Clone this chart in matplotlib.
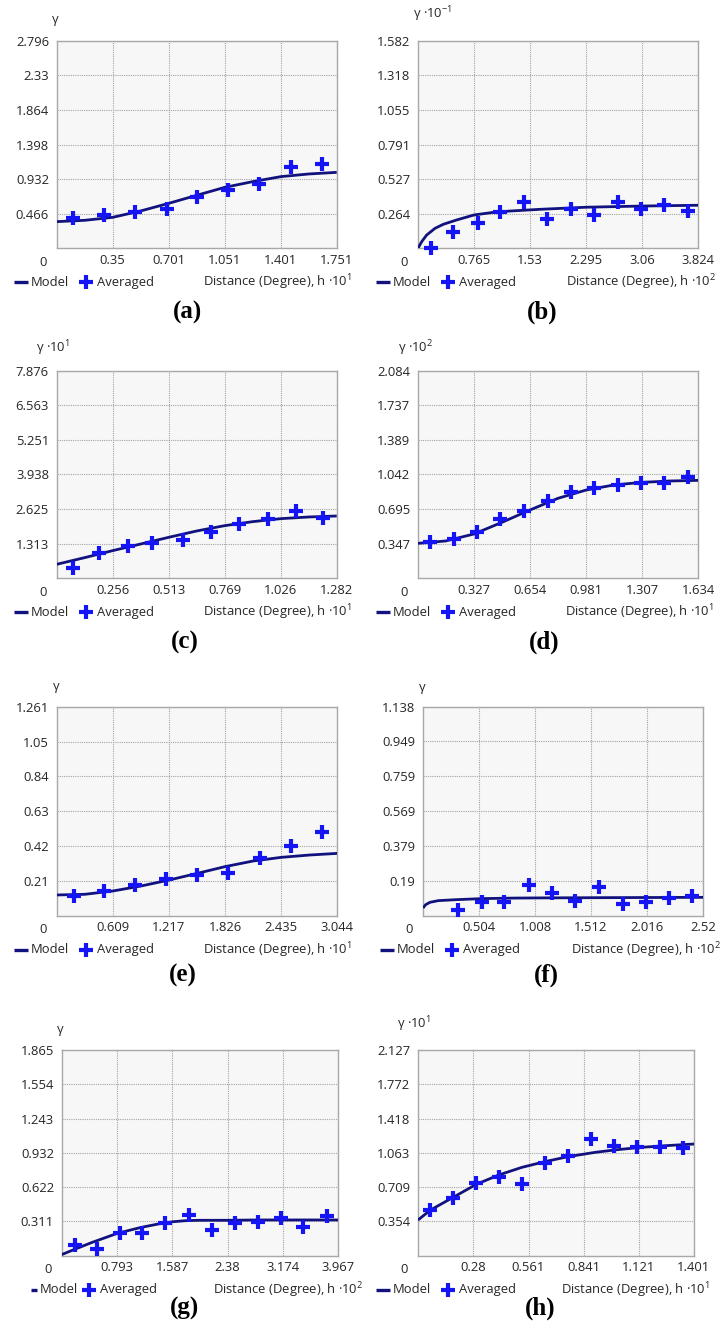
import matplotlib
matplotlib.use("Agg")
import matplotlib.pyplot as plt
from matplotlib.lines import Line2D

# ====== DATA ======
# (a)
a_lag = [0.104, 0.296, 0.490, 0.688, 0.880, 1.074, 1.267, 1.465, 1.657]
a_avg = [0.404, 0.449, 0.494, 0.525, 0.687, 0.785, 0.862, 1.091, 1.135]
a_model_h = [0, 0.175, 0.35, 0.525, 0.701, 0.876, 1.051, 1.226, 1.401, 1.576, 1.751]
a_model = [0.359, 0.377, 0.417, 0.503, 0.606, 0.714, 0.821, 0.898, 0.965, 1.001, 1.023]
a_xticks = ["0.35", "0.701", "1.051", "1.401", "1.751"]
a_yticks = ["0.466", "0.932", "1.398", "1.864", "2.33", "2.796"]

# (b)
b_lag = [0.173, 0.482, 0.815, 1.120, 1.452, 1.762, 2.090, 2.399, 2.727, 3.046, 3.364, 3.683]
b_avg = [0.0, 0.127, 0.190, 0.279, 0.351, 0.223, 0.302, 0.254, 0.350, 0.297, 0.330, 0.284]
b_model_h = [0, 0.05, 0.118, 0.232, 0.346, 0.528, 0.765, 1.029, 1.256, 1.666, 2.295, 3.06, 3.824]
b_model = [0, 0.050, 0.101, 0.152, 0.183, 0.216, 0.254, 0.274, 0.284, 0.297, 0.313, 0.322, 0.328]
b_xticks = ["0.765", "1.53", "2.295", "3.06", "3.824"]
b_yticks = ["0.264", "0.527", "0.791", "1.055", "1.318", "1.582"]

# (c)
c_lag = [0.073, 0.194, 0.325, 0.435, 0.577, 0.705, 0.835, 0.969, 1.094, 1.221]
c_avg = [0.379, 0.973, 1.226, 1.327, 1.454, 1.770, 2.048, 2.238, 2.566, 2.276]
c_model_h = [0, 0.128, 0.256, 0.385, 0.513, 0.641, 0.769, 0.897, 1.026, 1.154, 1.282]
c_model = [0.531, 0.784, 1.049, 1.302, 1.555, 1.795, 1.997, 2.149, 2.263, 2.326, 2.364]
c_xticks = ["0.256", "0.513", "0.769", "1.026", "1.282"]
c_yticks = ["1.313", "2.625", "3.938", "5.251", "6.563", "7.876"]

# (d)
d_lag = [0.072, 0.208, 0.344, 0.480, 0.621, 0.757, 0.893, 1.029, 1.165, 1.301, 1.438, 1.574]
d_avg = [0.368, 0.391, 0.468, 0.592, 0.679, 0.779, 0.863, 0.903, 0.933, 0.960, 0.953, 1.020]
d_model_h = [0, 0.163, 0.327, 0.490, 0.654, 0.817, 0.981, 1.144, 1.307, 1.471, 1.634]
d_model = [0.351, 0.375, 0.445, 0.562, 0.686, 0.803, 0.886, 0.937, 0.963, 0.977, 0.983]
d_xticks = ["0.327", "0.654", "0.981", "1.307", "1.634"]
d_yticks = ["0.347", "0.695", "1.042", "1.389", "1.737", "2.084"]

# (e)
e_lag = [0.188, 0.517, 0.850, 1.182, 1.526, 1.862, 2.205, 2.542, 2.874]
e_avg = [0.119, 0.151, 0.185, 0.219, 0.245, 0.259, 0.350, 0.422, 0.503]
e_model_h = [0, 0.304, 0.609, 0.913, 1.217, 1.522, 1.826, 2.131, 2.435, 2.740, 3.044]
e_model = [0.125, 0.129, 0.149, 0.179, 0.215, 0.255, 0.296, 0.330, 0.352, 0.366, 0.376]
e_xticks = ["0.609", "1.217", "1.826", "2.435", "3.044"]
e_yticks = ["0.21", "0.42", "0.63", "0.84", "1.05", "1.261"]

# (f)
f_lag = [0.312, 0.528, 0.732, 0.957, 1.161, 1.371, 1.581, 1.797, 2.007, 2.217, 2.421]
f_avg = [0.029, 0.075, 0.075, 0.169, 0.125, 0.080, 0.154, 0.062, 0.076, 0.098, 0.107]
f_model_h = [0, 0.024, 0.063, 0.138, 0.288, 0.528, 0.828, 1.098, 1.512, 2.016, 2.52]
f_model = [0.042, 0.060, 0.073, 0.082, 0.087, 0.093, 0.096, 0.097, 0.098, 0.099, 0.100]
f_xticks = ["0.504", "1.008", "1.512", "2.016", "2.52"]
f_yticks = ["0.19", "0.379", "0.569", "0.759", "0.949", "1.138"]

# (g)
g_lag = [0.186, 0.506, 0.832, 1.156, 1.486, 1.821, 2.155, 2.481, 2.810, 3.140, 3.465, 3.800]
g_avg = [0.097, 0.061, 0.203, 0.203, 0.294, 0.369, 0.233, 0.294, 0.302, 0.339, 0.257, 0.363]
g_model_h = [0, 0.186, 0.425, 0.798, 1.142, 1.381, 1.596, 1.764, 1.955, 2.385, 2.815, 3.967]
g_model = [0.010, 0.058, 0.118, 0.203, 0.257, 0.287, 0.308, 0.317, 0.321, 0.321, 0.324, 0.324]
g_xticks = ["0.793", "1.587", "2.38", "3.174", "3.967"]
g_yticks = ["0.311", "0.622", "0.932", "1.243", "1.554", "1.865"]

# (h)
h_lag = [0.063, 0.178, 0.296, 0.409, 0.528, 0.643, 0.761, 0.878, 0.997, 1.112, 1.227, 1.343]
h_avg = [0.472, 0.593, 0.748, 0.817, 0.741, 0.962, 1.034, 1.203, 1.134, 1.120, 1.127, 1.110]
h_model_h = [0, 0.063, 0.178, 0.296, 0.409, 0.528, 0.643, 0.761, 0.900, 1.010, 1.130, 1.260, 1.401]
h_model = [0.369, 0.472, 0.603, 0.738, 0.834, 0.914, 0.972, 1.024, 1.069, 1.096, 1.120, 1.138, 1.155]
h_xticks = ["0.28", "0.561", "0.841", "1.121", "1.401"]
h_yticks = ["0.354", "0.709", "1.063", "1.418", "1.772", "2.127"]

# axis scale exponents shown in the labels
y_exp = {"a": None, "b": "-1", "c": "1", "d": "2", "e": None, "f": None, "g": None, "h": "1"}
x_exp = {"a": "1", "b": "2", "c": "1", "d": "1", "e": "1", "f": "2", "g": "2", "h": "1"}

panels = {
    "a": (a_lag, a_avg, a_model_h, a_model, a_xticks, a_yticks),
    "b": (b_lag, b_avg, b_model_h, b_model, b_xticks, b_yticks),
    "c": (c_lag, c_avg, c_model_h, c_model, c_xticks, c_yticks),
    "d": (d_lag, d_avg, d_model_h, d_model, d_xticks, d_yticks),
    "e": (e_lag, e_avg, e_model_h, e_model, e_xticks, e_yticks),
    "f": (f_lag, f_avg, f_model_h, f_model, f_xticks, f_yticks),
    "g": (g_lag, g_avg, g_model_h, g_model, g_xticks, g_yticks),
    "h": (h_lag, h_avg, h_model_h, h_model, h_xticks, h_yticks),
}

# ====== LAYOUT (pixels) ======
W, H = 723, 1323
# plot box L, R, T, B ; y-label (x, baseline) ; distance label right x ; letter centre
layout = {
    "a": dict(box=(56.7, 336.7, 40.7, 248.3), ylab=(52, 23), dist=352, letter=(187, 312), leg=(14, 28)),
    "b": dict(box=(418, 698, 40.7, 248.3), ylab=(413, 18), dist=716, letter=(542, 312), leg=(376, 390)),
    "c": dict(box=(56.7, 336.7, 370.7, 578.3), ylab=(36, 352), dist=352, letter=(185, 642), leg=(14, 28)),
    "d": dict(box=(418, 698, 370.7, 578.3), ylab=(398, 352), dist=714, letter=(544, 642), leg=(376, 390)),
    "e": dict(box=(56.7, 337.3, 706.7, 915.7), ylab=(53, 690), dist=352, letter=(183, 975), leg=(14, 28)),
    "f": dict(box=(423, 703, 706.7, 915.7), ylab=(419, 691), dist=721, letter=(546, 975), leg=(380, 394)),
    "g": dict(box=(61.7, 338.3, 1050, 1255.7), ylab=(57, 1033), dist=363, letter=(185, 1308), leg=(31, 37)),
    "h": dict(box=(418, 694, 1050, 1255.7), ylab=(397, 1028), dist=710, letter=(540, 1308), leg=(376, 390)),
}

# ====== STYLE ======
plt.rcParams['font.family'] = ['Open Sans', 'DejaVu Sans']
plt.rcParams['mathtext.fontset'] = 'custom'
plt.rcParams['mathtext.rm'] = 'Open Sans'
plt.rcParams['mathtext.it'] = 'Open Sans'
text_col = '#262626'
grid_col = '#a3a3a3'
model_col = '#12127e'
avg_col = '#1414f5'
fs = 9.4

fig = plt.figure(figsize=(W / 100, H / 100), dpi=100)


def fx(x):
    return x / W


def fy(y):
    return 1 - y / H


for key, (lag, avg, mh, mv, xt, yt) in panels.items():
    L, R, T, B = layout[key]["box"]
    ax = fig.add_axes([fx(L), fy(B), (R - L) / W, (B - T) / H])
    ax.set_facecolor('#f7f7f7')

    xmax = float(xt[-1])
    ymax = float(yt[-1])
    ax.set_xlim(0, xmax)
    ax.set_ylim(0, ymax)
    ax.set_xticks([float(v) for v in xt])
    ax.set_xticklabels(xt)
    ax.set_yticks([float(v) for v in yt])
    ax.set_yticklabels(yt)
    ax.tick_params(length=0, labelsize=fs, colors=text_col)
    ax.tick_params(axis='x', pad=3.8)
    ax.tick_params(axis='y', pad=5.5)
    ax.grid(True, linestyle=(0, (1, 1)), color=grid_col, linewidth=0.8)
    for sp in ax.spines.values():
        sp.set_color('#a8a8a8')
        sp.set_linewidth(1.0)

    ax.plot(mh, mv, color=model_col, linewidth=2.0, zorder=3, solid_capstyle='butt')
    ax.plot(lag, avg, linestyle='none', marker='+', markersize=10, markeredgewidth=3.0,
            color=avg_col, zorder=4, clip_on=False)

    # corner zero
    fig.text(fx(L - 14), fy(B + 14), "0", fontsize=fs, color=text_col, ha='center', va='center')

    # y label
    yx, yb = layout[key]["ylab"]
    ylabel = "γ" if y_exp[key] is None else "γ ·$10^{%s}$" % y_exp[key]
    fig.text(fx(yx), fy(yb), ylabel, fontsize=fs, color=text_col, ha='left', va='baseline')

    # legend row
    ly = fy(B + 34)
    x0, x1 = layout[key]["leg"]
    fig.add_artist(Line2D([fx(x0), fx(x1)], [ly, ly], transform=fig.transFigure,
                          color=model_col, linewidth=2.4, solid_capstyle='butt'))
    base = layout[key]["leg"][0] if key != "g" else 17
    fig.text(fx(x1 + 3), ly, "Model", fontsize=fs, color=text_col, ha='left', va='center')
    fig.add_artist(Line2D([fx(base + 72)], [ly], transform=fig.transFigure, marker='+',
                          markersize=10, markeredgewidth=3.0, color=avg_col, linestyle='none'))
    fig.text(fx(base + 83), ly, "Averaged", fontsize=fs, color=text_col, ha='left', va='center')
    fig.text(fx(layout[key]["dist"]), ly, "Distance (Degree), h ·$10^{%s}$" % x_exp[key],
             fontsize=fs, color=text_col, ha='right', va='center')

    # panel letter
    lx, lyy = layout[key]["letter"]
    fig.text(fx(lx), fy(lyy), "(%s)" % key, fontsize=18, fontweight='bold',
             family='Liberation Serif', color='black', ha='center', va='center')

fig.savefig("out.png", dpi=100, facecolor='white')
